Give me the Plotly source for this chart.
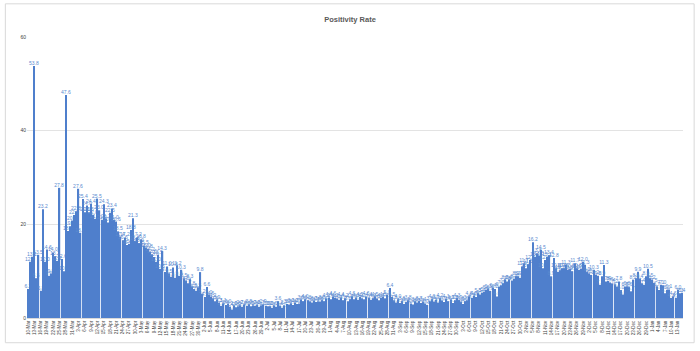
import datetime as dt
import plotly.graph_objects as go

# Daily positivity rate (%), starting 10-Mar
start_date = dt.date(2020, 3, 10)
values = [
    6.2, 12.0, 13.1, 53.8, 8.5, 13.5, 5.8, 23.2, 12.0, 14.6,
    9.0, 9.5, 14.0, 13.2, 12.2, 27.8, 12.6, 10.0, 47.6, 18.6,
    19.6, 20.8, 22.0, 22.8, 27.6, 18.2, 25.4, 22.6, 24.0, 22.6,
    24.4, 22.0, 21.2, 25.5, 23.0, 21.0, 24.3, 21.2, 20.4, 22.5,
    23.4, 21.0, 20.6, 18.5, 17.4, 16.6, 17.2, 15.6, 15.8, 18.8,
    21.3, 16.5, 17.2, 16.0, 16.8, 15.5, 15.0, 14.8, 14.2, 13.6,
    13.0, 12.0, 13.5, 10.5, 14.3, 9.8, 11.0, 9.5, 8.8, 10.8,
    8.6, 11.2, 9.0, 10.3, 8.5, 8.0, 7.4, 8.3, 6.8, 6.2,
    5.8, 6.5, 9.8, 5.2, 4.5, 6.6, 5.0, 4.6, 4.2, 3.6,
    3.9, 3.3, 2.6, 3.1, 2.8, 3.0, 2.4, 1.8, 2.6, 2.3,
    2.5, 2.7, 2.4, 2.8, 2.6, 2.9, 2.5, 2.7, 2.6, 2.8,
    2.4, 2.7, 2.9, 2.6, 2.5, 2.5, 2.2, 2.6, 2.4, 3.6,
    2.6, 2.2, 2.7, 3.0, 2.9, 3.1, 2.8, 3.2, 3.0, 3.1,
    3.9, 3.6, 4.0, 3.8, 3.5, 3.3, 3.7, 3.4, 3.6, 3.5,
    3.8, 3.6, 4.2, 4.4, 4.0, 4.6, 4.3, 4.1, 3.9, 4.4,
    3.8, 4.2, 3.6, 4.0, 4.6, 4.0, 4.3, 3.9, 4.5, 4.2,
    4.0, 4.6, 4.4, 3.9, 4.2, 4.5, 4.1, 3.8, 4.3, 4.5,
    4.2, 5.0, 6.4, 4.5, 3.8, 3.3, 4.0, 3.2, 3.6, 3.0,
    3.4, 3.8, 3.1, 2.9, 3.5, 3.3, 3.7, 3.2, 3.4, 3.0,
    2.8, 3.6, 4.0, 3.5, 3.9, 3.3, 4.2, 3.7, 3.4, 4.1,
    3.6, 3.9, 3.2, 3.8, 4.3, 3.9, 3.5, 3.0, 3.6, 3.8,
    4.6, 4.3, 4.8, 4.5, 5.3, 5.0, 5.4, 5.6, 6.0, 6.3,
    5.8, 6.4, 6.2, 4.6, 6.7, 7.0, 7.4, 8.2, 7.8, 8.2,
    8.0, 8.4, 8.9, 8.9, 8.6, 11.0, 11.7, 10.6, 11.5, 12.4,
    16.2, 13.1, 13.8, 13.3, 14.5, 10.6, 12.4, 13.1, 13.4, 8.9,
    12.8, 10.6, 9.9, 10.2, 10.6, 10.6, 11.3, 10.3, 10.5, 10.0,
    11.7, 10.6, 10.3, 10.5, 12.0, 11.3, 9.9, 9.5, 9.2, 10.3,
    9.2, 9.0, 7.1, 8.9, 11.3, 7.8, 7.9, 7.6, 7.4, 7.2,
    6.7, 7.8, 6.0, 5.0, 6.7, 6.8, 6.6, 5.7, 8.2, 8.5,
    9.9, 8.4, 7.4, 7.1, 8.9, 10.5, 8.5, 8.2, 7.5, 6.7,
    6.0, 7.1, 7.0, 5.3, 6.0, 6.1, 4.3, 4.6, 4.3, 6.0,
    5.3, 5.4,
]
dates = [start_date + dt.timedelta(days=i) for i in range(len(values))]
categories = [f"{d.day}-{d.strftime('%b')}" for d in dates]
tick_step = 3
tick_labels = categories[::tick_step]
y_ticks = [0, 20, 40, 60]

fig = go.Figure(go.Bar(
    x=categories,
    y=values,
    marker=dict(color="#4F7FCC", line=dict(width=0)),
    text=[f"{v:.1f}" for v in values],
    textposition="outside",
    textangle=0,
    constraintext="none",
    cliponaxis=False,
    textfont=dict(size=5, color="#5B8BD0", family="Liberation Sans"),
))

fig.update_layout(
    width=700, height=351,
    margin=dict(l=27, r=17, t=37, b=33),
    paper_bgcolor="white", plot_bgcolor="white",
    bargap=0.4,
    showlegend=False,
    font=dict(family="Liberation Sans", color="#404040"),
    title=dict(text="<b>Positivity Rate</b>", x=0.5, xanchor="center", y=0.945, yanchor="middle",
               font=dict(size=7.5, color="#595959", family="Liberation Sans")),
    xaxis=dict(
        type="category",
        tickmode="array", tickvals=tick_labels, ticktext=tick_labels,
        tickangle=-90, tickfont=dict(size=4.5, color="#404040"),
        showgrid=False, showline=True, linecolor="#D9D9D9", linewidth=1,
        ticks="", ticklen=0,
    ),
    yaxis=dict(
        range=[0, 60], tickvals=y_ticks, tickfont=dict(size=5, color="#404040"),
        showgrid=True, gridcolor="#E3E3E3", gridwidth=1, zeroline=False,
        ticks="", showline=False,
    ),
    shapes=[dict(type="rect", xref="paper", yref="paper", x0=-0.033, x1=1.017, y0=-0.088, y1=1.118,
                 line=dict(color="#D9D9D9", width=1), fillcolor="rgba(0,0,0,0)", layer="below")],
)

fig.write_html("out.html")
